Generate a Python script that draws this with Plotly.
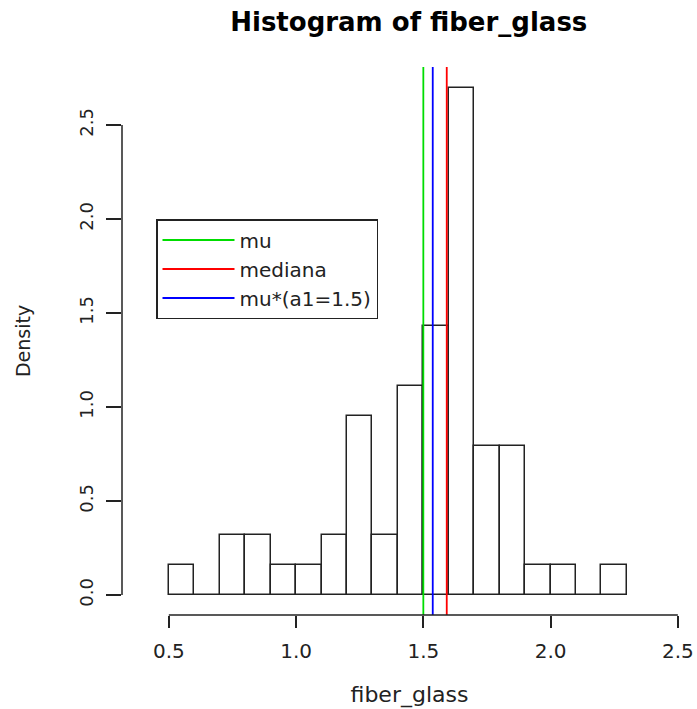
import plotly.graph_objects as go

# Histogram data (bins of width 0.1 from 0.5 to 2.3)
bin_left = [0.5, 0.6, 0.7, 0.8, 0.9, 1.0, 1.1, 1.2, 1.3, 1.4, 1.5, 1.6, 1.7, 1.8, 1.9, 2.0, 2.1, 2.2]
counts = [1, 0, 2, 2, 1, 1, 2, 6, 2, 7, 9, 17, 5, 5, 1, 1, 0, 1]
bin_width = 0.1
n_obs = sum(counts)
density = [c / (n_obs * bin_width) for c in counts]
bin_center = [b + bin_width / 2 for b in bin_left]

# Reference lines
line_names = ["mu", "mediana", "mu*(a1=1.5)"]
line_values = [1.500, 1.592, 1.537]
line_colors = ["#00dd00", "#ff0000", "#0000ff"]

x_ticks = [0.5, 1.0, 1.5, 2.0, 2.5]
y_ticks = [0.0, 0.5, 1.0, 1.5, 2.0, 2.5]

x_range = [0.316, 2.5753]
y_range = [-0.1064, 2.809]

FONT = "DejaVu Sans"

fig = go.Figure()
fig.add_trace(go.Bar(
    x=bin_center, y=density, width=bin_width,
    marker=dict(color="white", line=dict(color="#222222", width=1.5)),
    showlegend=False, hoverinfo="skip",
))

for name, val, col in zip(line_names, line_values, line_colors):
    fig.add_trace(go.Scatter(
        x=[val, val], y=y_range, mode="lines", name=name,
        line=dict(color=col, width=1.8), showlegend=True,
    ))

# R-style axis lines spanning only first to last tick
fig.add_shape(type="line", xref="x", yref="paper", x0=x_ticks[0], x1=x_ticks[-1], y0=0, y1=0,
              line=dict(color="#222222", width=1.5))
fig.add_shape(type="line", xref="paper", yref="y", x0=0, x1=0, y0=y_ticks[0], y1=y_ticks[-1],
              line=dict(color="#222222", width=1.5))

fig.update_layout(
    width=697, height=709,
    margin=dict(l=122, r=0, t=67, b=94),
    paper_bgcolor="white", plot_bgcolor="white",
    font=dict(family=FONT, color="#222222", size=20),
    title=dict(text="Histogram of fiber_glass", x=0.5865, xanchor="center",
               y=1 - 22 / 709, yref="container", yanchor="middle",
               font=dict(family=FONT, size=26, weight="bold", color="black")),
    bargap=0,
    showlegend=True,
    legend=dict(x=(156 - 122) / 575, y=(615 - 219) / 548, xanchor="left", yanchor="top",
                bordercolor="#222222", borderwidth=1.5, bgcolor="white",
                font=dict(family=FONT, size=20, color="#222222"),
                itemwidth=72, tracegroupgap=0),
    xaxis=dict(range=x_range, tickvals=x_ticks, ticktext=[f"{v:.1f}" for v in x_ticks],
               showgrid=False, zeroline=False, showline=False,
               ticks="outside", ticklen=12, tickwidth=1.5, tickcolor="#222222",
               tickfont=dict(size=20), ticklabelstandoff=6,
               title=dict(text="fiber_glass", font=dict(size=22), standoff=24)),
    yaxis=dict(range=y_range, tickvals=y_ticks, ticktext=[f"{v:.1f}" for v in y_ticks],
               showgrid=False, zeroline=False, showline=False,
               ticks="outside", ticklen=15, tickwidth=1.5, tickcolor="#222222",
               tickangle=-90, tickfont=dict(size=18), ticklabelstandoff=6,
               title=dict(text="Density", font=dict(size=19), standoff=40)),
)

fig.write_html("out.html")
